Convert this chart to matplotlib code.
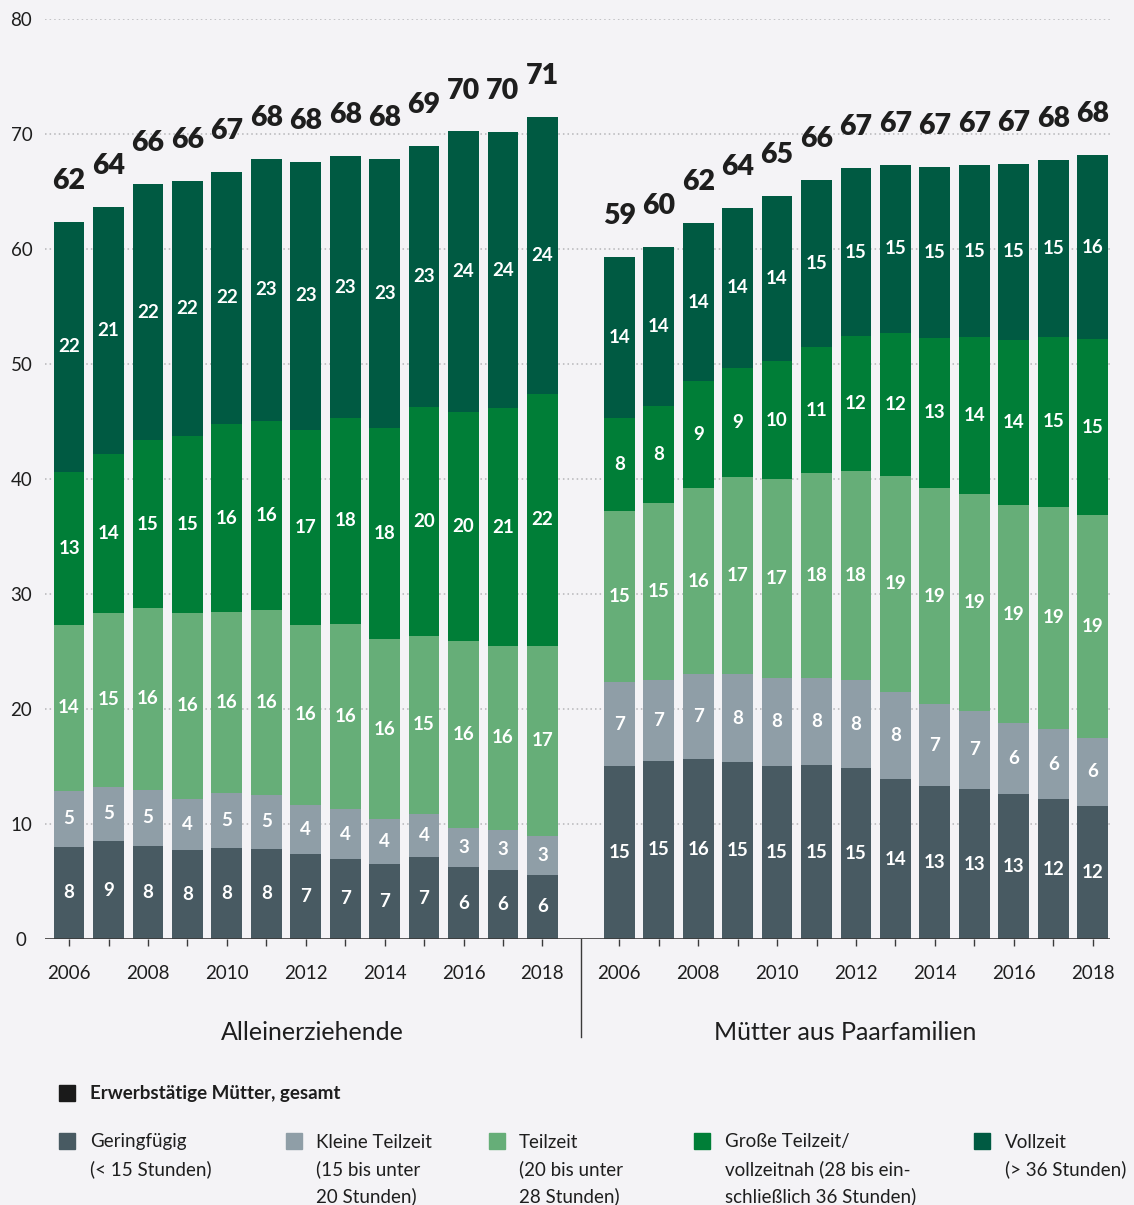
import matplotlib
matplotlib.use("Agg")
import matplotlib.pyplot as plt
from matplotlib.patches import Rectangle
import numpy as np

plt.rcParams['font.family'] = ['Lato', 'DejaVu Sans']

years = list(range(2006, 2019))

# Alleinerziehende, Anteile in %
allein_gering = [8.0, 8.52, 8.09, 7.74, 7.91, 7.83, 7.39, 6.96, 6.52, 7.13, 6.26, 6.0, 5.57]
allein_klein = [4.87, 4.7, 4.87, 4.45, 4.79, 4.69, 4.26, 4.34, 3.91, 3.74, 3.39, 3.48, 3.39]
allein_teil = [14.46, 15.13, 15.82, 16.16, 15.73, 16.09, 15.68, 16.12, 15.66, 15.48, 16.26, 16.0, 16.52]
allein_gross = [13.3, 13.85, 14.61, 15.39, 16.35, 16.43, 16.93, 17.88, 18.34, 19.91, 19.92, 20.69, 21.91]
allein_voll = [21.72, 21.45, 22.26, 22.17, 21.92, 22.79, 23.31, 22.79, 23.4, 22.7, 24.4, 24.0, 24.09]

# Muetter aus Paarfamilien
paar_gering = [15.04, 15.48, 15.65, 15.39, 15.04, 15.13, 14.87, 13.91, 13.3, 13.04, 12.61, 12.17, 11.57]
paar_klein = [7.31, 7.04, 7.39, 7.65, 7.66, 7.57, 7.65, 7.57, 7.13, 6.79, 6.17, 6.09, 5.91]
paar_teil = [14.87, 15.39, 16.18, 17.13, 17.3, 17.82, 18.18, 18.78, 18.79, 18.87, 18.96, 19.31, 19.39]
paar_gross = [8.08, 8.44, 9.3, 9.48, 10.26, 10.96, 11.73, 12.44, 13.04, 13.65, 14.35, 14.78, 15.3]
paar_voll = [14.0, 13.82, 13.74, 13.92, 14.35, 14.52, 14.61, 14.6, 14.87, 14.95, 15.3, 15.39, 16.0]

groups = ["Alleinerziehende", "Mütter aus Paarfamilien"]
legend_labels = ["Geringfügig\n(< 15 Stunden)",
                 "Kleine Teilzeit\n(15 bis unter\n20 Stunden)",
                 "Teilzeit\n(20 bis unter\n28 Stunden)",
                 "Große Teilzeit/\nvollzeitnah (28 bis ein-\nschließlich 36 Stunden)",
                 "Vollzeit\n(> 36 Stunden)"]
colors = ["#485a62", "#8f9ea7", "#66ae78", "#007e37", "#005a42"]
bg = "#f4f3f6"
txt = "#1e1e1e"

fig = plt.figure(figsize=(11.34, 12.05), dpi=100, facecolor=bg)
ax = fig.add_axes([45/1134, (1205-939)/1205, (1110-45)/1134, 920/1205])
ax.set_facecolor(bg)

offset = 13.95
x_left = np.arange(len(years))
x_right = x_left + offset
width = 0.78

for xs, series in [(x_left, [allein_gering, allein_klein, allein_teil, allein_gross, allein_voll]),
                   (x_right, [paar_gering, paar_klein, paar_teil, paar_gross, paar_voll])]:
    bottom = np.zeros(len(xs))
    for vals, c in zip(series, colors):
        vals = np.array(vals)
        ax.bar(xs, vals, width, bottom=bottom, color=c, zorder=2)
        for x, b, v in zip(xs, bottom, vals):
            ax.text(x, b + v / 2, f"{round(v)}", ha='center', va='center',
                    color='white', fontsize=13.5, fontweight='bold', zorder=3)
        bottom = bottom + vals
    for x, t in zip(xs, bottom):
        ax.annotate(f"{round(t)}", (x, t), xytext=(0, 20), textcoords='offset points',
                    ha='center', va='bottom', fontsize=20.5, fontweight='heavy', color=txt)

ax.set_xlim(-0.61, 26.39)
ax.set_ylim(0, 80)

# dotted grid
for y in range(10, 81, 10):
    ax.axhline(y, color='#b5b5b8', lw=1.1, ls=(0, (1, 2)), zorder=1)
ax.axhline(0, color='#3a3a3a', lw=1.2, zorder=4)

for s in ax.spines.values():
    s.set_visible(False)

ax.set_yticks(range(0, 81, 10))
ax.tick_params(axis='y', length=0, pad=17, labelsize=13.5, labelcolor=txt)
for lab in ax.get_yticklabels():
    lab.set_horizontalalignment('center')

xt = np.concatenate([x_left, x_right])
ax.set_xticks(xt)
ax.set_xticklabels([str(y) if y % 2 == 0 else "" for y in years] * 2)
ax.tick_params(axis='x', length=5, width=1, color='#3a3a3a', pad=14,
               labelsize=13.5, labelcolor=txt)

# separator between the two groups
sep = (x_left[-1] + x_right[0]) / 2
ax.plot([sep, sep], [0, -98 / 11.5], color='#3a3a3a', lw=1, clip_on=False)

fig.text(312/1134, (1205-1033)/1205, groups[0], ha='center', va='center',
         fontsize=18, color=txt)
fig.text(845/1134, (1205-1033)/1205, groups[1], ha='center', va='center',
         fontsize=18, color=txt)

# legend
def px(x, y):
    return x / 1134, (1205 - y) / 1205

sq = 16
fig.patches.append(Rectangle(px(59, 1101), sq/1134, sq/1205, color='#1a1a1a',
                             transform=fig.transFigure, figure=fig))
fig.text(*px(90, 1094), "Erwerbstätige Mütter, gesamt", ha='left', va='center',
         fontsize=13.5, fontweight='bold', color=txt)

sq_x = [59, 286, 489, 694, 974]
tx_x = [90, 316, 519, 725, 1005]
for c, lab, sx, tx in zip(colors, legend_labels, sq_x, tx_x):
    fig.patches.append(Rectangle(px(sx, 1149), sq/1134, sq/1205, color=c,
                                 transform=fig.transFigure, figure=fig))
    for i, line in enumerate(lab.split("\n")):
        fig.text(*px(tx, 1142 + 27 * i), line, ha='left', va='center',
                 fontsize=13.5, color=txt)

fig.savefig("out.png", dpi=100, facecolor=bg)
